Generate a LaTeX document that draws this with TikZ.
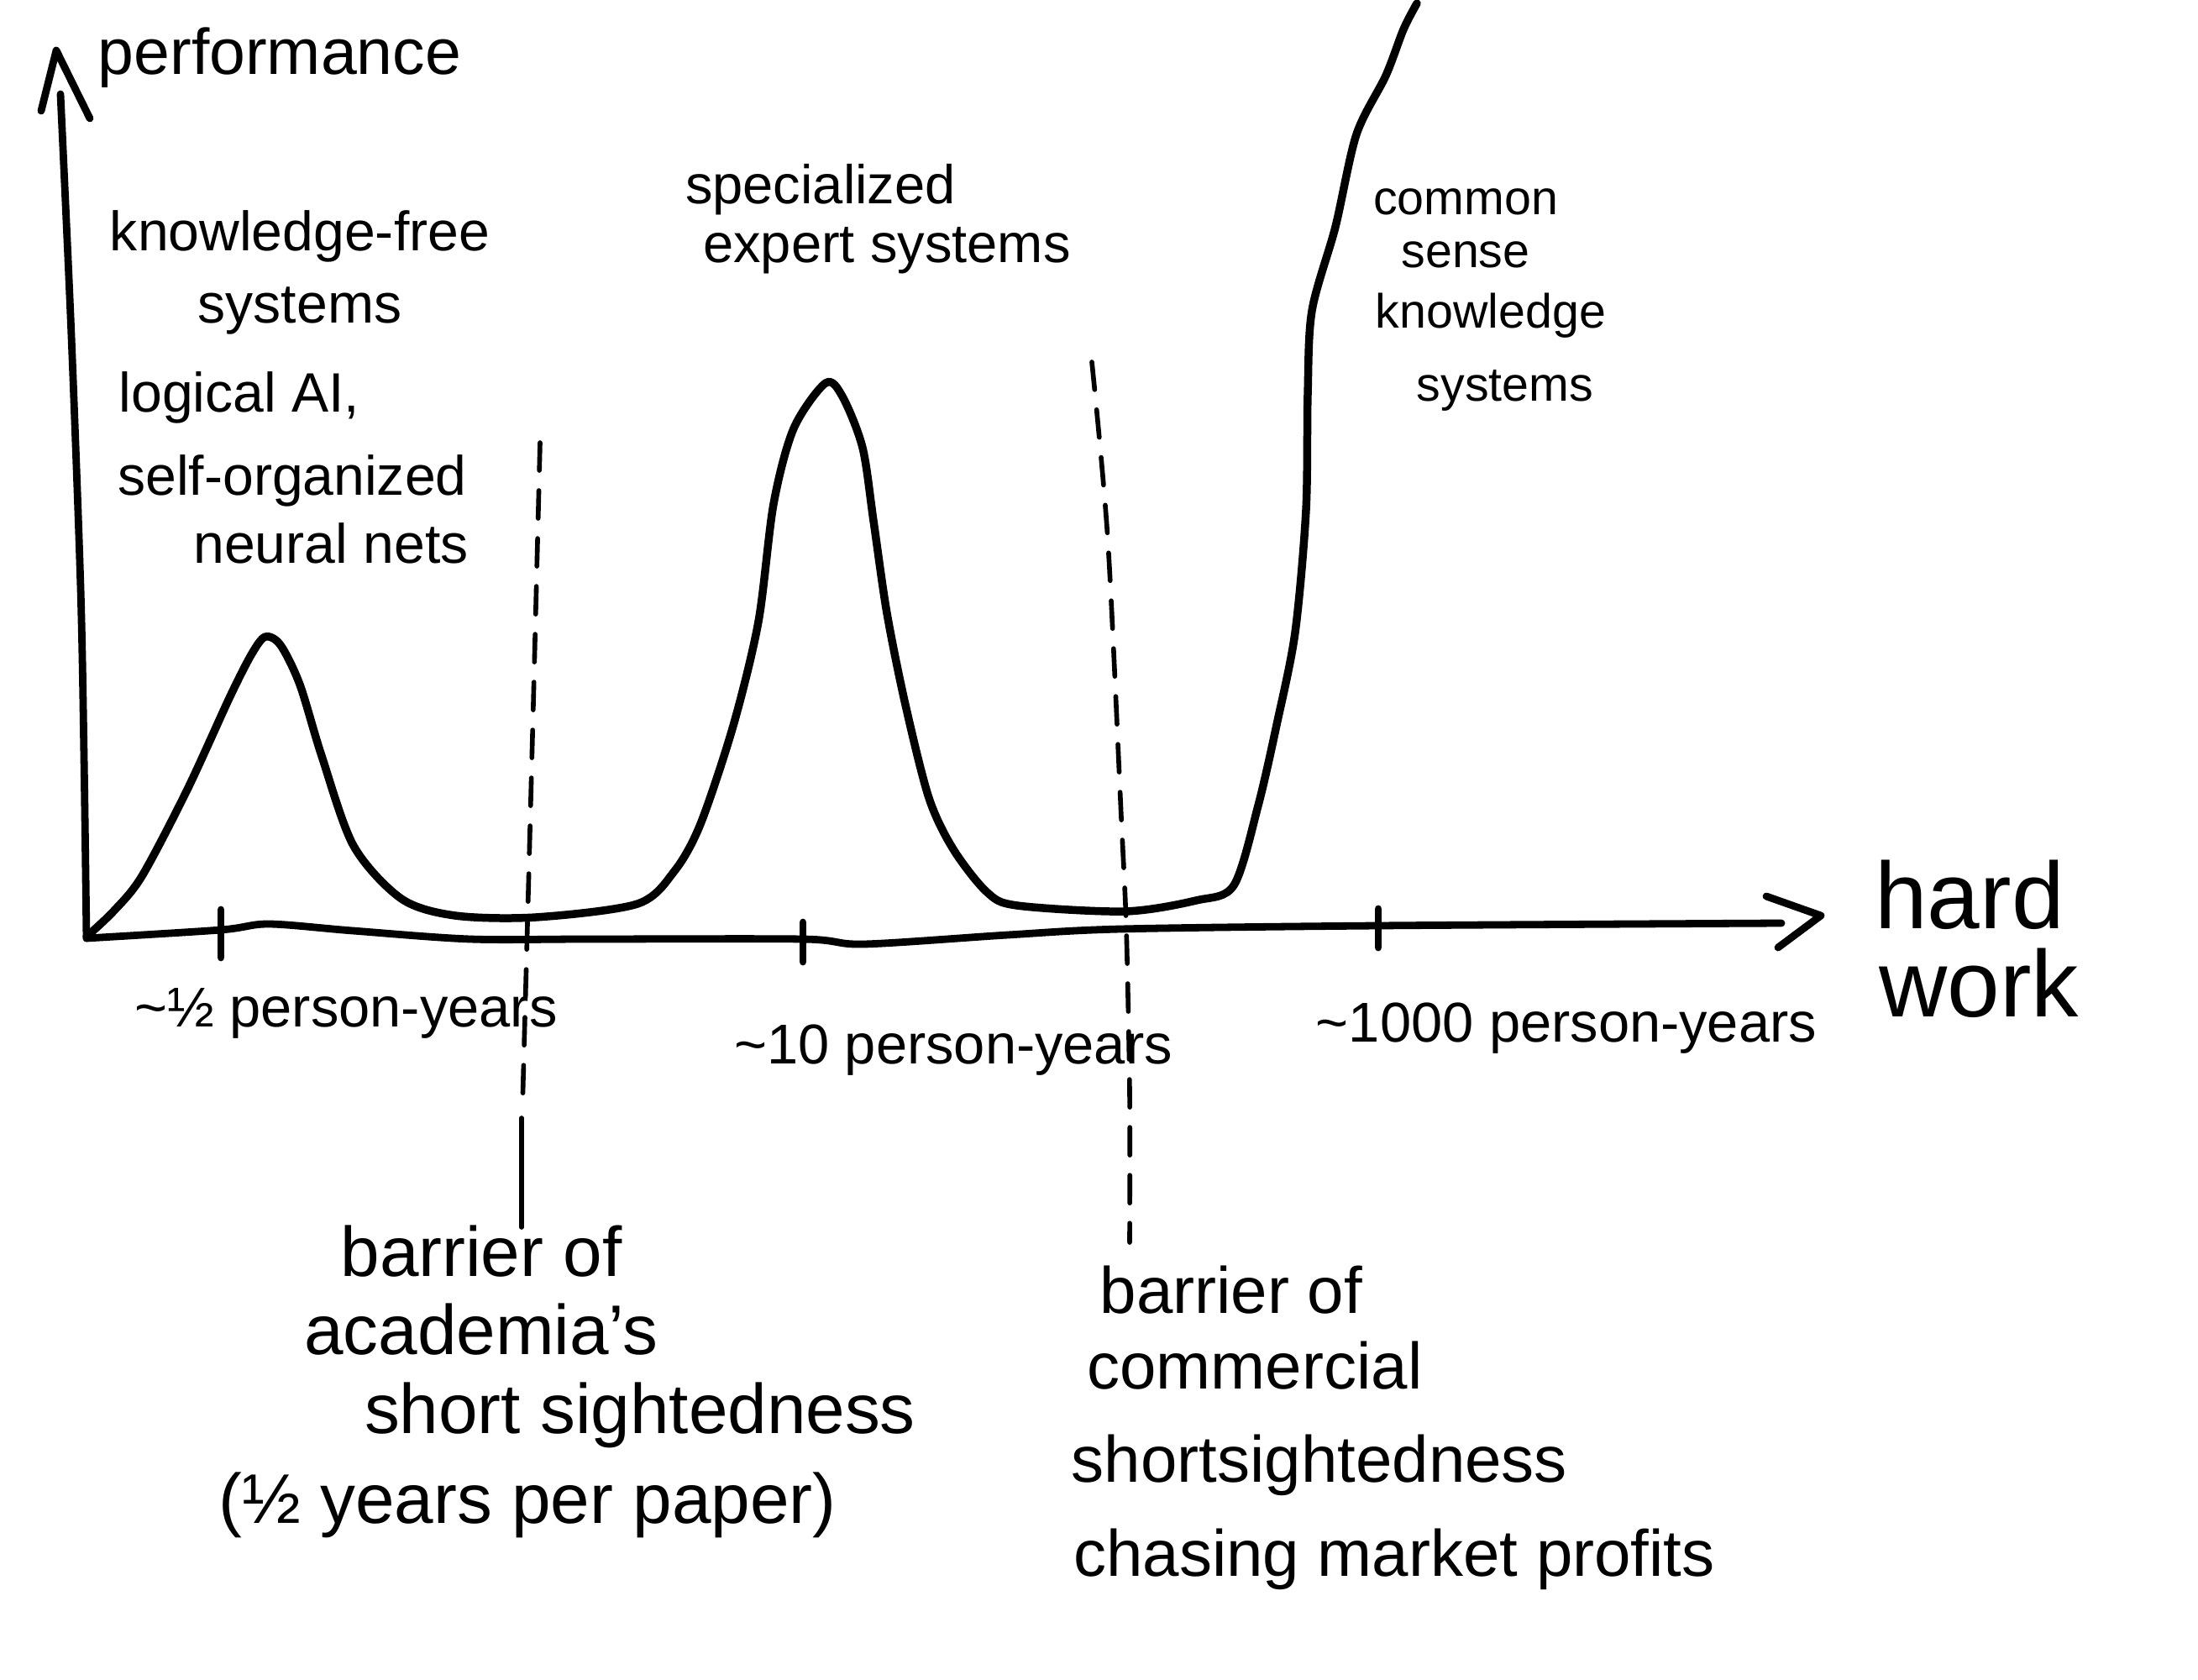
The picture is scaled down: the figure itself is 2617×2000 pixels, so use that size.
\documentclass[tikz,border=0pt]{standalone}
\usepackage{fontspec}
\setmainfont{Liberation Sans}
\newcommand\myfs[1]{\fontsize{#1}{#1}\selectfont}
\begin{document}
\begin{tikzpicture}[x=0.01cm,y=-0.01cm,
  ink/.style={line width=2.7pt, line cap=round, line join=round},
  axisline/.style={line width=2.5pt, line cap=round, line join=round},
  barrierline/.style={line width=1.6pt, line cap=round, dash pattern=on 0.33cm off 0.24cm},
  lab/.style={inner sep=0pt, anchor=base},
  big/.style={lab, font=\myfs{21.9pt}},
  leftlab/.style={lab, font=\myfs{18.8pt}},
  midlab/.style={lab, font=\myfs{18.5pt}},
  rightlab/.style={lab, font=\myfs{16.3pt}},
  ticklab/.style={lab, font=\myfs{19pt}},
  axislab/.style={lab, font=\myfs{32pt}},
  barL/.style={lab, font=\myfs{23.8pt}},
  barR/.style={lab, font=\myfs{22.2pt}}]
\useasboundingbox (0,0) rectangle (2617,2000);
\fill[white] (0,0) rectangle (2617,2000);

% y axis
\draw[axisline] plot[smooth] coordinates {(103,1117) (100,900) (96,700) (85,400) (72,112)};
\draw[axisline] (49,132) -- (67,60) -- (107,141);
% x axis
\draw[axisline] plot[smooth, tension=0.5] coordinates {(103,1117) (263,1107) (320,1100) (420,1108) (560,1118) (700,1118) (956,1118) (1028,1124) (1200,1113) (1334,1106) (1641,1102) (2121,1099)};
\draw[axisline] (2103,1067) -- (2168,1090) -- (2117,1128);
% ticks
\draw[axisline] (263,1083) -- (263,1140);
\draw[axisline] (956,1098) -- (956,1145);
\draw[axisline] (1641,1082) -- (1641,1128);

% performance curve
\draw[ink] plot[smooth, tension=0.5] coordinates {
 (103,1115) (135,1085) (169,1043) (223,940) (274,829) (300,778) (316,758) (334,768)
 (357,815) (383,900) (421,1007) (478,1070) (542,1090) (638,1092) (759,1076)
 (803,1037) (834,981) (873,864) (903,740) (921,600) (945,510) (983,456)
 (1003,472) (1027,533) (1040,620) (1056,730) (1078,839) (1106,950) (1135,1011)
 (1175,1062) (1211,1078) (1339,1085) (1424,1072) (1469,1054) (1498,959) (1520,863)
 (1542,753) (1555,607) (1557,470) (1562,370) (1590,270) (1615,160) (1650,90)
 (1671,35) (1687,4)};

% barrier lines
\draw[barrierline] plot[smooth] coordinates {(643,527) (636,800) (628,1100) (622,1320)};
\draw[line width=1.6pt, line cap=round] (621,1331) -- (621,1461);
\draw[barrierline] plot[smooth] coordinates {(1300,431) (1319,643) (1335,973) (1341,1105) (1345,1300) (1345,1479)};

% labels
\node[big] (perf) at (333,89) {performance};
\node[axislab] (hard) at (2345,1105) {hard};
\node[axislab] (work) at (2356,1210) {work};

\node[leftlab] (kf1) at (357,299) {knowledge-free};
\node[leftlab] (kf2) at (357,384) {systems};
\node[leftlab] (la1) at (285,491) {logical AI,};
\node[leftlab] (la2) at (348,589) {self-organized};
\node[leftlab] (la3) at (394,670) {neural nets};

\node[midlab] (se1) at (977,242) {specialized};
\node[midlab] (se2) at (1056,313) {expert systems};

\node[rightlab] (cs1) at (1745,256) {common};
\node[rightlab] (cs2) at (1745,318) {sense};
\node[rightlab] (cs3) at (1775,390) {knowledge};
\node[rightlab] (cs4) at (1792,478) {systems};

\node[ticklab] (t1) at (412,1222) {\textasciitilde½ person-years};
\node[ticklab] (t2) at (1135,1266) {\textasciitilde10 person-years};
\node[ticklab] (t3) at (1865,1240) {\textasciitilde1000 person-years};

\node[barL] (ba1) at (573,1519) {barrier of};
\node[barL] (ba2) at (573,1612) {academia’s};
\node[barL] (ba3) at (762,1706) {short sightedness};
\node[barL] (ba4) at (628,1813) {(½ years per paper)};

\node[barR] (bc1) at (1466,1563) {barrier of};
\node[barR] (bc2) at (1494,1653) {commercial};
\node[barR] (bc3) at (1571,1764) {shortsightedness};
\node[barR] (bc4) at (1660,1876) {chasing market profits};
\end{tikzpicture}
\end{document}
